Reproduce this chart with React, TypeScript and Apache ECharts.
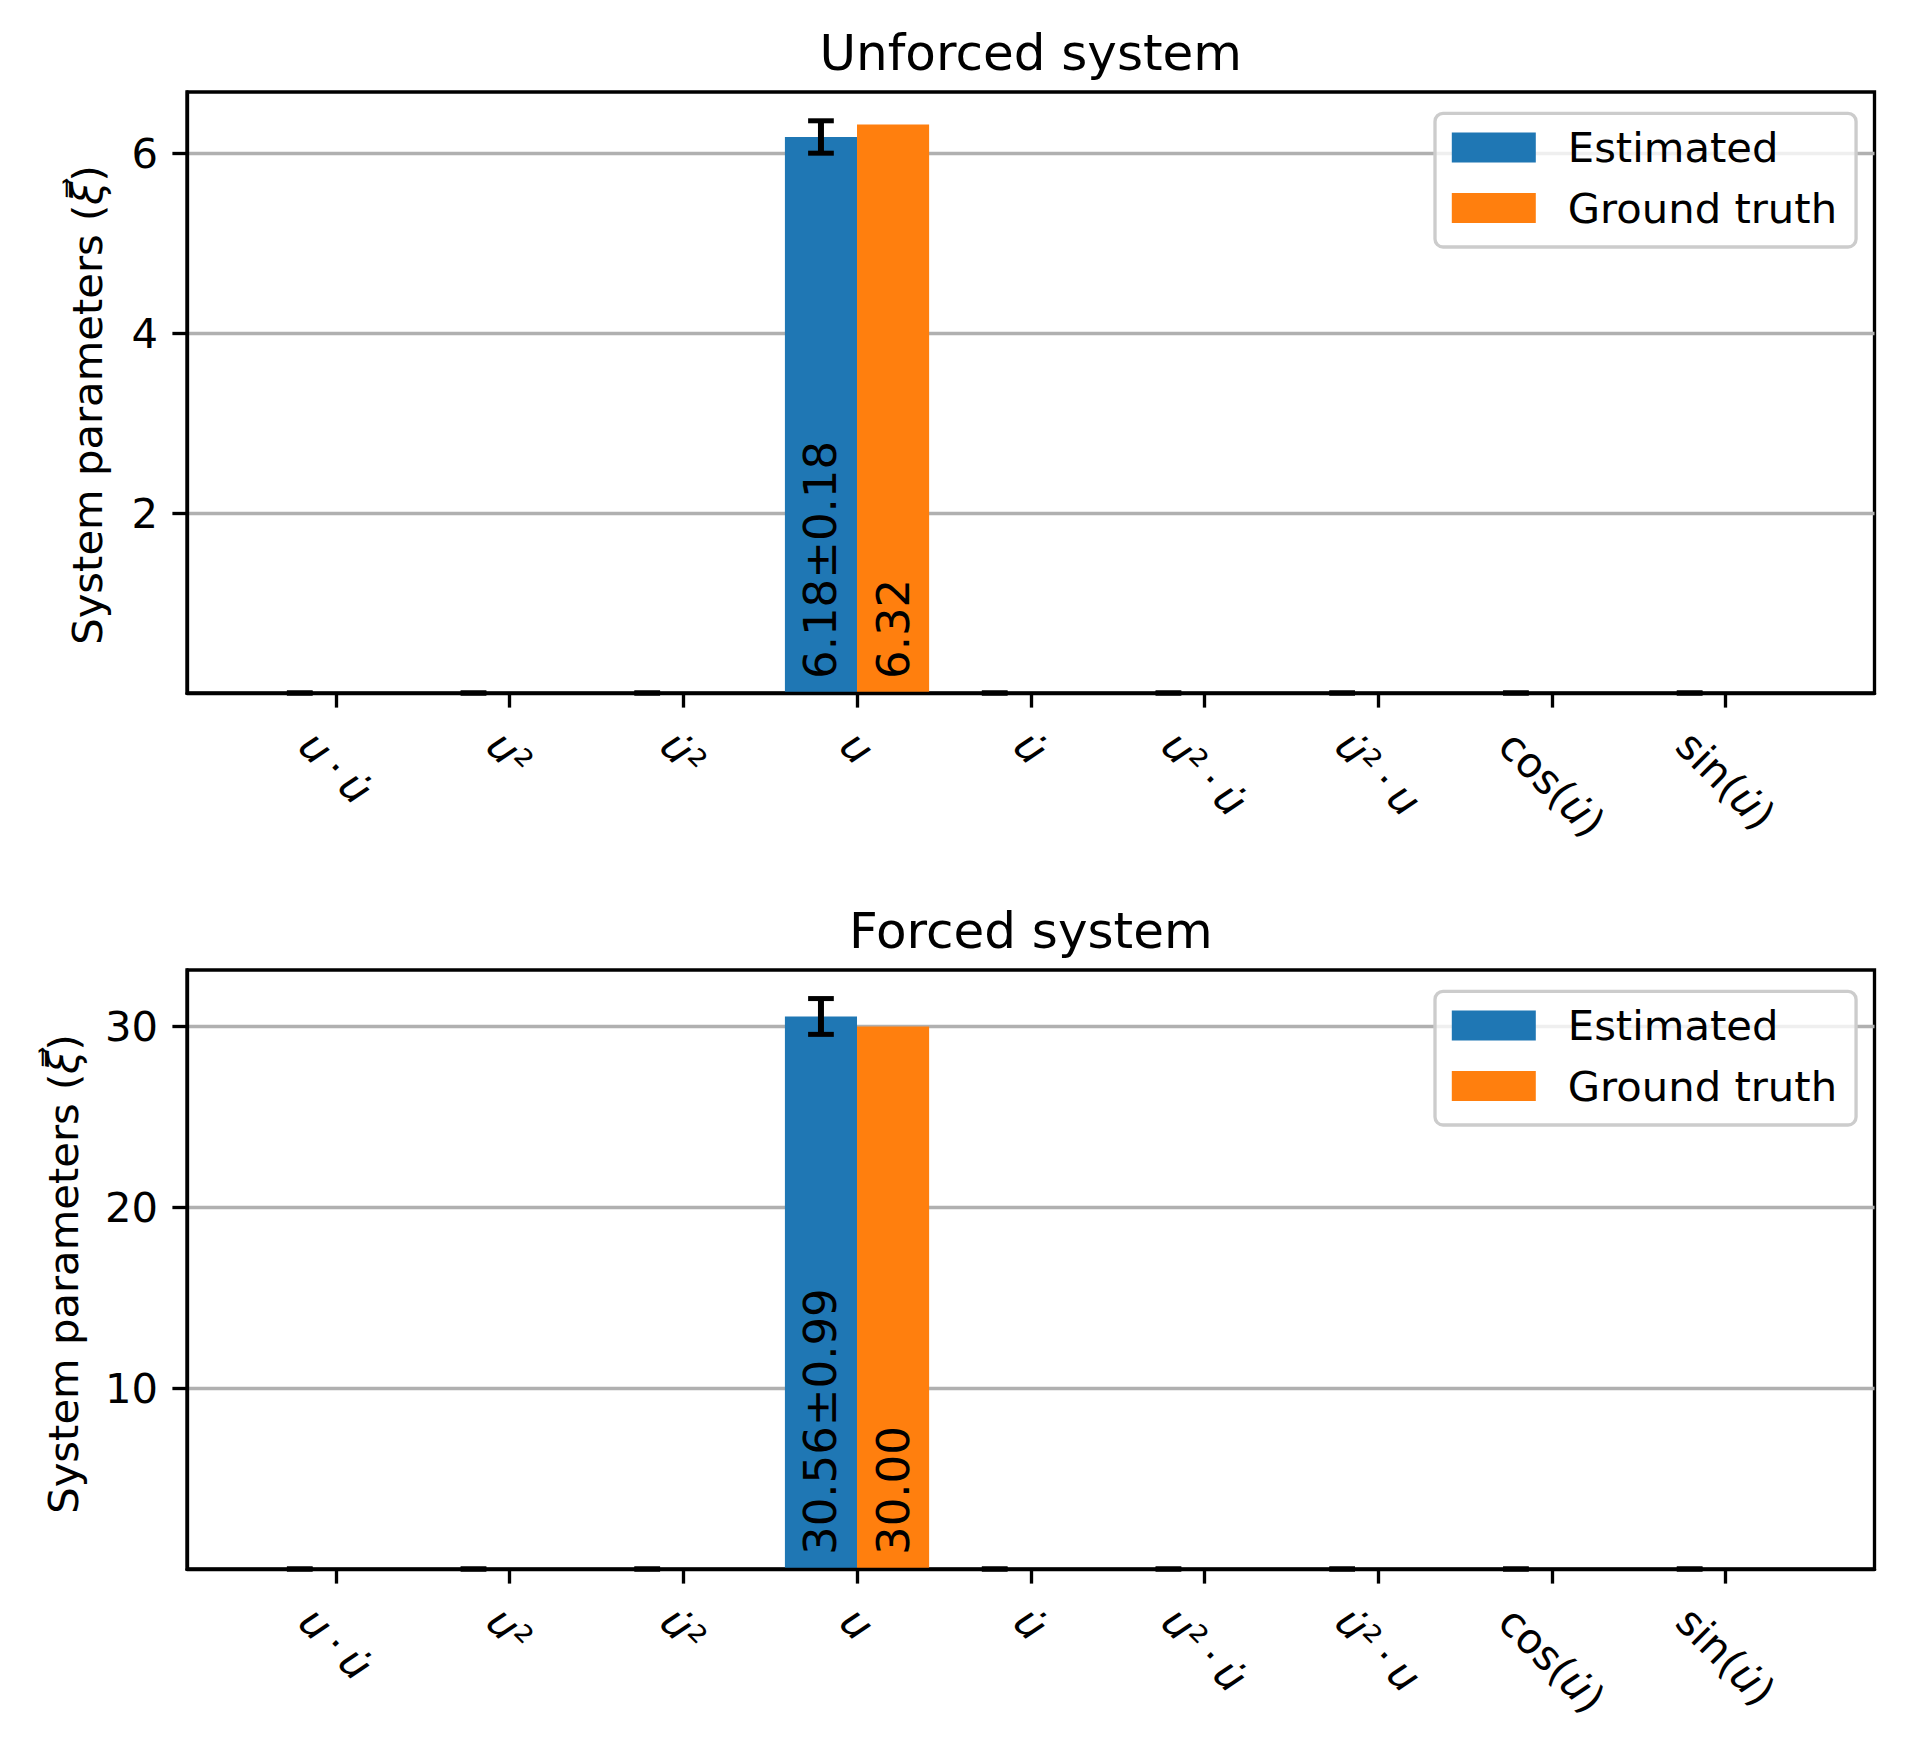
import React, { useEffect, useRef } from 'react';
import * as echarts from 'echarts';

// ---- data ----
const categories = [
  'u\u2009·\u2009u\u0307',
  'u²',
  'u\u0307²',
  'u',
  'u\u0307',
  'u²\u2009·\u2009u\u0307',
  'u\u0307²\u2009·\u2009u',
  'cos(u\u0307)',
  'sin(u\u0307)',
];
const seriesNames = ['Estimated', 'Ground truth'];
const unforcedEstimated = [0, 0, 0, 6.18, 0, 0, 0, 0, 0];
const unforcedError = [0, 0, 0, 0.18, 0, 0, 0, 0, 0];
const unforcedTruth = [0, 0, 0, 6.32, 0, 0, 0, 0, 0];
const forcedEstimated = [0, 0, 0, 30.56, 0, 0, 0, 0, 0];
const forcedError = [0, 0, 0, 0.99, 0, 0, 0, 0, 0];
const forcedTruth = [0, 0, 0, 30.0, 0, 0, 0, 0, 0];
const unforcedTicks = [2, 4, 6];
const forcedTicks = [10, 20, 30];
const unforcedMax = 6.68;
const forcedMax = 33.13;
const titles = ['Unforced system', 'Forced system'];
const yLabel = 'System parameters (';

// ---- style ----
const FONT = '"DejaVu Sans", sans-serif';
const BLUE = '#1f77b4';
const ORANGE = '#ff7f0e';
const LW = 3.33;
const BW = 0.415;
const FS = 41.7;

export default function App() {
  const ref = useRef<HTMLDivElement>(null);
  useEffect(() => {
    document.body.style.margin = '0';
    if (!ref.current) return;
    const canvas = document.createElement('canvas');
    const ctx = canvas.getContext('2d')!;
    const measure = (s: string) => {
      let w = 0;
      const parts = s.split(/(u\u0307?)/g).filter((p) => p.length);
      for (const p of parts) {
        ctx.font = (/^u/.test(p) && p.length <= 2 ? 'italic ' : '') + FS + 'px "DejaVu Sans"';
        w += ctx.measureText(p).width;
      }
      return w;
    };
    const widths = categories.map(measure);
    const richLabel = (s: string) => s.replace(/u\u0307?/g, (m) => `{i|${m}}`);

    const chart = echarts.init(ref.current, null, { renderer: 'svg' });

    const grids = [
      { left: 187, top: 92, width: 1687.5, height: 601 },
      { left: 187, top: 970, width: 1687.5, height: 599 },
    ];
    const panels = [
      { est: unforcedEstimated, err: unforcedError, truth: unforcedTruth, ticks: unforcedTicks, max: unforcedMax },
      { est: forcedEstimated, err: forcedError, truth: forcedTruth, ticks: forcedTicks, max: forcedMax },
    ];

    const series: any[] = [];
    panels.forEach((p, gi) => {
      const mkBar = (name: string, values: number[], color: string, x0: number, x1: number) => ({
        type: 'custom',
        name,
        xAxisIndex: gi,
        yAxisIndex: gi,
        z: 2,
        itemStyle: { color },
        encode: { x: 0, y: 1 },
        data: values.map((v, i) => [i, v]),
        renderItem: (_params: any, api: any) => {
          const i = api.value(0);
          const v = api.value(1);
          const a = api.coord([i + x0, v]);
          const b = api.coord([i + x1, 0]);
          return {
            type: 'rect',
            shape: { x: a[0], y: Math.min(a[1], b[1]), width: b[0] - a[0], height: Math.abs(b[1] - a[1]) },
            style: { fill: color },
          };
        },
      });
      series.push(mkBar(seriesNames[0], p.est, BLUE, -BW, 0));
      series.push(mkBar(seriesNames[1], p.truth, ORANGE, 0, BW));
      // error bars
      series.push({
        type: 'custom',
        name: 'err' + gi,
        xAxisIndex: gi,
        yAxisIndex: gi,
        z: 4,
        encode: { x: 0, y: 1 },
        data: p.est.map((v, i) => [i, v, p.err[i]]),
        renderItem: (_params: any, api: any) => {
          const i = api.value(0);
          const v = api.value(1);
          const e = api.value(2);
          const t = api.coord([i - BW / 2, v + e]);
          const b = api.coord([i - BW / 2, v - e]);
          const cap = 12.85;
          return {
            type: 'group',
            children: [
              { type: 'line', shape: { x1: t[0], y1: t[1], x2: b[0], y2: b[1] }, style: { stroke: '#000', lineWidth: 6 } },
              { type: 'line', shape: { x1: t[0] - cap, y1: t[1], x2: t[0] + cap, y2: t[1] }, style: { stroke: '#000', lineWidth: 5 } },
              { type: 'line', shape: { x1: b[0] - cap, y1: b[1], x2: b[0] + cap, y2: b[1] }, style: { stroke: '#000', lineWidth: 5 } },
            ],
          };
        },
      });
      // bar value annotations
      series.push({
        type: 'custom',
        name: 'ann' + gi,
        xAxisIndex: gi,
        yAxisIndex: gi,
        z: 5,
        encode: { x: 0, y: 1 },
        data: p.est.map((v, i) => [i, v, p.truth[i]]),
        renderItem: (params: any, api: any) => {
          const i = api.value(0);
          const ev = api.value(1);
          const tv = api.value(2);
          const children: any[] = [];
          const txt = (text: string, x: number, y: number) => ({
            type: 'text',
            x,
            y,
            rotation: Math.PI / 2,
            style: { text, fontSize: 45, fontFamily: FONT, fill: '#000', align: 'left', verticalAlign: 'middle' },
          });
          if (ev !== 0) {
            const a = api.coord([i - BW / 2, 0]);
            children.push(txt(`${ev.toFixed(2)}±${p.err[params.dataIndex].toFixed(2)}`, a[0], a[1] - 14));
          }
          if (tv !== 0) {
            const a = api.coord([i + BW / 2, 0]);
            children.push(txt(tv.toFixed(2), a[0], a[1] - 14));
          }
          return { type: 'group', children };
        },
      });
      // x category labels (rotated, bbox centred on tick like matplotlib)
      series.push({
        type: 'custom',
        name: 'xl' + gi,
        xAxisIndex: gi,
        yAxisIndex: gi,
        z: 5,
        clip: false,
        encode: { x: 0, y: 1 },
        data: categories.map((_c, i) => [i, 0]),
        renderItem: (params: any, api: any) => {
          const i = api.value(0);
          const pt = api.coord([i, 0]);
          const w = widths[params.dataIndex];
          const h = 46;
          const cy = pt[1] + 29 + (w + h) / (2 * Math.SQRT2);
          return {
            type: 'text',
            x: pt[0],
            y: cy,
            rotation: -Math.PI / 4,
            style: {
              text: richLabel(categories[params.dataIndex]),
              fontSize: FS,
              fontFamily: FONT,
              fill: '#000',
              align: 'center',
              verticalAlign: 'middle',
              rich: {
                i: { fontStyle: 'italic', fontSize: FS, fontFamily: FONT, fill: '#000' },
              },
            },
          };
        },
      });
    });

    const xMin = -BW - 0.05 * (8 + 2 * BW);
    const xMax = 8 + BW + 0.05 * (8 + 2 * BW);
    const tickIdx = categories.map((_c, i) => i);

    const graphic: any[] = [];
    titles.forEach((t, gi) => {
      graphic.push({
        type: 'text',
        x: grids[gi].left + grids[gi].width / 2,
        y: grids[gi].top - 39,
        style: { text: t, fontSize: 50, fontFamily: FONT, fill: '#000', align: 'center', verticalAlign: 'middle' },
      });
    });
    const ylPos = [
      [87.5, 405],
      [63, 1274],
    ];
    ylPos.forEach((pos) => {
      graphic.push({
        type: 'text',
        x: pos[0],
        y: pos[1],
        rotation: Math.PI / 2,
        style: {
          text: yLabel + '{i|ξ\u20d7})',
          fontSize: FS,
          fontFamily: FONT,
          fill: '#000',
          align: 'center',
          verticalAlign: 'middle',
          rich: { i: { fontStyle: 'italic', fontSize: FS, fontFamily: FONT, fill: '#000' } },
        },
      });
    });

    const legendTops = [113.4, 991.4];

    chart.setOption({
      animation: false,
      backgroundColor: '#fff',
      grid: grids.map((g) => ({ ...g, show: true, borderColor: '#000', borderWidth: LW, backgroundColor: 'transparent', containLabel: false })),
      xAxis: grids.map((_g, gi) => ({
        type: 'value',
        gridIndex: gi,
        min: xMin,
        max: xMax,
        z: 10,
        axisLine: { show: true, onZero: false, lineStyle: { color: '#000', width: LW } },
        axisTick: { show: true, length: 14.6, lineStyle: { color: '#000', width: LW }, customValues: tickIdx },
        axisLabel: { show: false },
        splitLine: { show: false },
      })),
      yAxis: panels.map((p, gi) => ({
        type: 'value',
        gridIndex: gi,
        min: 0,
        max: p.max,
        interval: p.ticks[0],
        z: 1,
        axisLine: { show: true, onZero: false, lineStyle: { color: '#000', width: LW } },
        axisTick: { show: true, length: 14.6, lineStyle: { color: '#000', width: LW }, customValues: p.ticks },
        axisLabel: { show: true, customValues: p.ticks, fontSize: FS, fontFamily: FONT, color: '#000', margin: 29 },
        splitLine: { show: true, lineStyle: { color: '#b0b0b0', width: LW } },
      })),
      legend: legendTops.map((top) => ({
        orient: 'vertical',
        left: 1435,
        top,
        z: 20,
        itemWidth: 84,
        itemHeight: 30,
        itemGap: 18.6,
        padding: [13, 19, 18, 16.8],
        backgroundColor: 'rgba(255,255,255,0.8)',
        borderColor: '#cccccc',
        borderWidth: LW,
        borderRadius: 8,
        selectedMode: false,
        textStyle: { fontSize: FS, fontFamily: FONT, color: '#000', lineHeight: 42, padding: [0, 0, 0, 27] },
        data: [
          { name: seriesNames[0], icon: 'rect', itemStyle: { color: BLUE } },
          { name: seriesNames[1], icon: 'rect', itemStyle: { color: ORANGE } },
        ],
      })),
      graphic,
      series,
    });
    return () => chart.dispose();
  }, []);
  return <div ref={ref} style={{ width: 1906, height: 1754 }} />;
}
